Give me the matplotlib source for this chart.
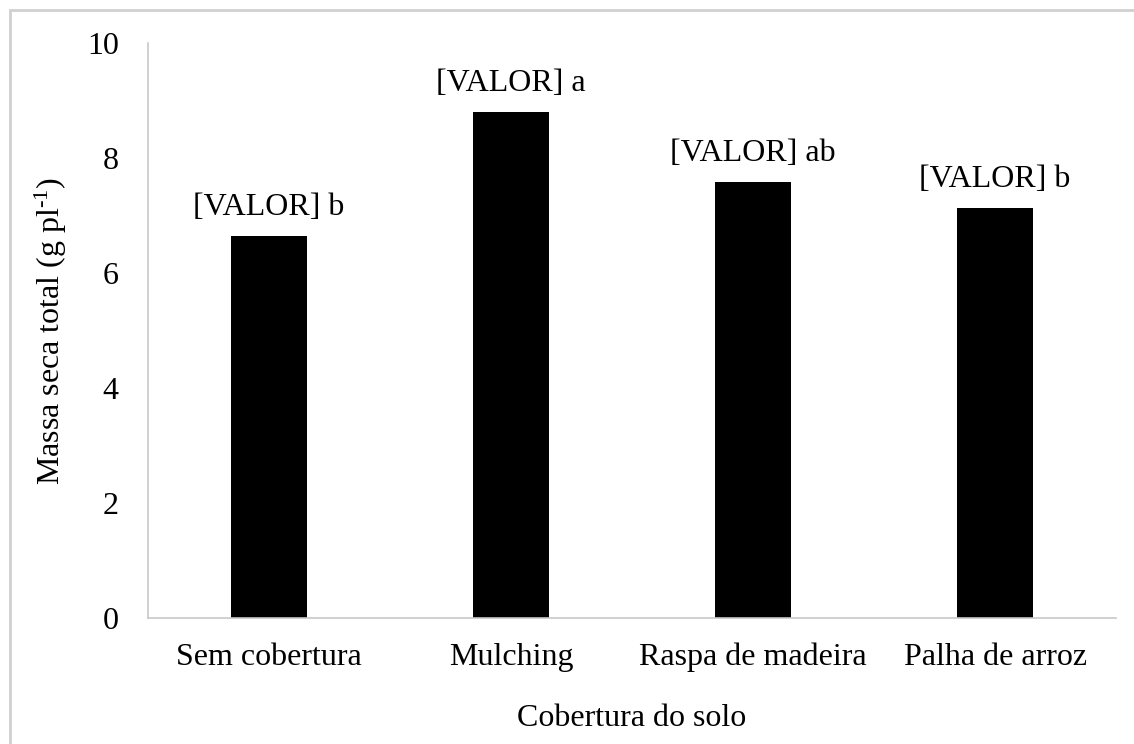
import matplotlib
matplotlib.use("Agg")
import matplotlib.pyplot as plt
from matplotlib.patches import Rectangle

# data
categorias = ["Sem cobertura", "Mulching", "Raspa de madeira", "Palha de arroz"]
massa_seca = [6.64, 8.80, 7.58, 7.13]
letras = ["b", "a", "ab", "b"]

plt.rcParams["font.family"] = ["Liberation Serif", "DejaVu Serif"]
plt.rcParams["mathtext.fontset"] = "custom"
plt.rcParams["mathtext.rm"] = "Liberation Serif"
plt.rcParams["mathtext.it"] = "Liberation Serif:italic"

FS = 23
W, H = 1134, 744
fig = plt.figure(figsize=(W / 100, H / 100), dpi=100)
ax = fig.add_axes([148 / W, 1 - 618 / H, (1116 - 148) / W, (618 - 43) / H])

ax.bar(categorias, massa_seca, width=0.314, color="black")
ax.set_xlim(-0.5, len(categorias) - 0.5)
ax.set_ylim(0, 10)
ax.set_yticks([0, 2, 4, 6, 8, 10])

for i, (v, l) in enumerate(zip(massa_seca, letras)):
    ax.annotate(f"[VALOR] {l}", (i, v), xytext=(0, 10), textcoords="offset points",
                ha="center", va="bottom", fontsize=FS)

# spines like the excel original
for s in ["top", "right"]:
    ax.spines[s].set_visible(False)
for s in ["left", "bottom"]:
    ax.spines[s].set_color("#c8c8c8")
    ax.spines[s].set_linewidth(1.2)

ax.tick_params(axis="both", length=0, labelsize=FS)
ax.tick_params(axis="y", pad=21)
ax.tick_params(axis="x", pad=18)

ax.set_ylabel(r"Massa seca total (g pl$^{\text{-1}}$)", fontsize=FS, labelpad=13)
ax.set_xlabel("Cobertura do solo", fontsize=FS, labelpad=23)

# outer chart border (only top and left are inside the picture)
fig.patches.append(Rectangle((10 / W, -0.1), 1.2, 1 - 10 / H + 0.1,
                             transform=fig.transFigure, fill=False,
                             edgecolor="#d0d0d0", linewidth=2))

fig.savefig("out.png", dpi=100)
